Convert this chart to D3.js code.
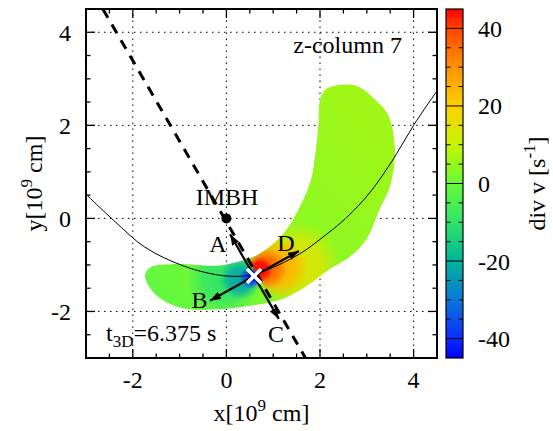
<!DOCTYPE html>
<html><head><meta charset="utf-8">
<script src="https://cdn.jsdelivr.net/npm/d3@7"></script>
<style>body{margin:0;background:#fff}svg{display:block}</style>
</head><body><svg id="c" width="553" height="431" font-family="'Liberation Serif', Tinos, 'Times New Roman', Times, serif"></svg>
<script>
// ---------- data ----------
const xTicks = [-2, 0, 2, 4];
const yTicks = [-2, 0, 2, 4];
const cbTicks = [-40, -20, 0, 20, 40];
const xDomain = [-3, 4.5];
const yDomain = [-3, 4.5];
const cbDomain = [-45, 45];
const paletteValues = [-45, -40, -30, -20, -10, 0, 10, 20, 30, 40, 45];
const paletteColors = ["#0000ff", "#0a2cff", "#0a78d8", "#00b49c", "#30e468", "#66fa3a", "#c8f500", "#ffd000", "#ff9400", "#ff4400", "#ff0000"];
// crescent outline (x, y in 1e9 cm)
const blobOutline = [[3.00,-0.44],[2.64,-0.83],[2.21,-1.09],[1.72,-1.45],[1.21,-1.73],[0.50,-1.88],[-0.14,-1.95],[-0.84,-1.95],[-1.21,-1.84],[-1.57,-1.58],[-1.74,-1.24],[-1.63,-1.05],[-0.93,-0.98],[-0.20,-1.02],[0.29,-0.92],[0.65,-0.79],[1.04,-0.51],[1.29,-0.23],[1.57,0.26],[1.79,0.78],[1.89,1.34],[1.96,1.98],[2.00,2.56],[2.11,2.77],[2.47,2.88],[2.81,2.84],[3.22,2.52],[3.43,2.28],[3.54,1.98],[3.60,1.55],[3.60,1.27],[3.50,0.69],[3.28,0.20]];
// background div v along the crescent
const baseField = [{x:-1.70, y:-1.40, v:-1}, {x:0.60, y:-0.80, v:3}, {x:2.60, y:2.60, v:6}];
// div v concentrations around the tracer (side: relative to the dashed line)
const spots = [
  {x:1.50, y:-1.00, v:14, r:0.95, side:"warm"},
  {x:1.10, y:-1.05, v:25, r:0.65, side:"warm"},
  {x:0.85, y:-1.08, v:36, r:0.45, side:"warm"},
  {x:0.72, y:-1.10, v:45, r:0.28, side:"warm"},
  {x:-0.05, y:-1.30, v:-10, r:0.80, side:"cold"},
  {x:0.30, y:-1.30, v:-22, r:0.45, side:"cold"},
  {x:0.52, y:-1.27, v:-38, r:0.24, side:"cold"},
  {x:0.58, y:-1.24, v:-45, r:0.14, side:"cold"}
];
const orbit = [[-3.0,0.52],[-2.4,-0.05],[-1.74,-0.62],[-0.92,-1.02],[-0.21,-1.21],[0.36,-1.24],[0.86,-1.11],[1.57,-0.76],[2.0,-0.45],[2.57,0.02],[3.07,0.56],[3.57,1.28],[4.0,2.0],[4.5,2.74]];
const dashedLine = [[-2.64, 4.5], [1.69, -3.0]];
const imbh = {x:0, y:0};
const tracer = {x:0.59, y:-1.24};
const arrows = [
  {name:"A", x:0.08, y:-0.34, lx:-0.18, ly:-0.72},
  {name:"B", x:-0.35, y:-1.77, lx:-0.575, ly:-1.93},
  {name:"C", x:1.12, y:-2.16, lx:1.06, ly:-2.66},
  {name:"D", x:1.55, y:-0.70, lx:1.27, ly:-0.70}
];

// ---------- scales ----------
const svg = d3.select("#c");
const x = d3.scaleLinear().domain(xDomain).range([86, 437]);
const y = d3.scaleLinear().domain(yDomain).range([358, 9]);
const cy = d3.scaleLinear().domain(cbDomain).range([358, 9]);
const color = d3.scaleLinear().domain(paletteValues).range(paletteColors).interpolate(d3.interpolateRgb);
const defs = svg.append("defs");
const FS = 24;

// ---------- grid ----------
const grid = svg.append("g").attr("stroke", "#000").attr("stroke-width", 1).attr("stroke-dasharray", "1.5,4.5");
grid.selectAll(".gx").data(xTicks).join("line").attr("x1", d => x(d)).attr("x2", d => x(d)).attr("y1", y.range()[0]).attr("y2", y.range()[1]);
grid.selectAll(".gy").data(yTicks).join("line").attr("y1", d => y(d)).attr("y2", d => y(d)).attr("x1", x.range()[0]).attr("x2", x.range()[1]);

// ---------- field ----------
const blobPath = d3.line().x(d => x(d[0])).y(d => y(d[1])).curve(d3.curveCatmullRomClosed.alpha(0.5));
defs.append("clipPath").attr("id", "blobClip").append("path").attr("d", blobPath(blobOutline));
const g0 = baseField[0], g1 = baseField[baseField.length - 1];
const vx = x(g1.x) - x(g0.x), vy = y(g1.y) - y(g0.y), vl2 = vx * vx + vy * vy;
const lg = defs.append("linearGradient").attr("id", "baseGrad").attr("gradientUnits", "userSpaceOnUse")
  .attr("x1", x(g0.x)).attr("y1", y(g0.y)).attr("x2", x(g1.x)).attr("y2", y(g1.y));
baseField.forEach(p => {
  const t = ((x(p.x) - x(g0.x)) * vx + (y(p.y) - y(g0.y)) * vy) / vl2;
  lg.append("stop").attr("offset", Math.max(0, Math.min(1, t))).attr("stop-color", color(p.v));
});
const P0 = [x(dashedLine[0][0]), y(dashedLine[0][1])], P1 = [x(dashedLine[1][0]), y(dashedLine[1][1])];
const dl = Math.hypot(P1[0] - P0[0], P1[1] - P0[1]);
const dx = (P1[0] - P0[0]) / dl, dy = (P1[1] - P0[1]) / dl;
const nR = [dy, -dx];
function half(sgn) {
  const L = 2000;
  const A = [P0[0] - dx * L, P0[1] - dy * L], B = [P1[0] + dx * L, P1[1] + dy * L];
  return [A, B, [B[0] + sgn * nR[0] * L, B[1] + sgn * nR[1] * L], [A[0] + sgn * nR[0] * L, A[1] + sgn * nR[1] * L]].map(p => p.join(",")).join(" ");
}
defs.append("clipPath").attr("id", "warmClip").append("polygon").attr("points", half(1));
defs.append("clipPath").attr("id", "coldClip").append("polygon").attr("points", half(-1));

const field = svg.append("g").attr("clip-path", "url(#blobClip)");
field.append("path").attr("d", blobPath(blobOutline)).attr("fill", "url(#baseGrad)");
const kx = x(1) - x(0);
spots.forEach((s, i) => {
  const rg = defs.append("radialGradient").attr("id", "sp" + i).attr("gradientUnits", "userSpaceOnUse")
    .attr("cx", x(s.x)).attr("cy", y(s.y)).attr("r", s.r * kx);
  rg.append("stop").attr("offset", 0).attr("stop-color", color(s.v)).attr("stop-opacity", 1);
  rg.append("stop").attr("offset", 0.55).attr("stop-color", color(s.v)).attr("stop-opacity", 0.8);
  rg.append("stop").attr("offset", 1).attr("stop-color", color(s.v)).attr("stop-opacity", 0);
});
["warm", "cold"].forEach(side => {
  const gs = field.append("g").attr("clip-path", `url(#${side}Clip)`);
  spots.forEach((s, i) => {
    if (s.side !== side) return;
    gs.append("circle").attr("cx", x(s.x)).attr("cy", y(s.y)).attr("r", s.r * kx).attr("fill", `url(#sp${i})`);
  });
});

// ---------- orbit & dashed line ----------
defs.append("clipPath").attr("id", "plotClip").append("rect")
  .attr("x", x.range()[0]).attr("y", y.range()[1]).attr("width", x.range()[1] - x.range()[0]).attr("height", y.range()[0] - y.range()[1]);
const overlay = svg.append("g").attr("clip-path", "url(#plotClip)");
overlay.append("path").attr("d", d3.line().x(d => x(d[0])).y(d => y(d[1])).curve(d3.curveCatmullRom.alpha(0.5))(orbit))
  .attr("fill", "none").attr("stroke", "#000").attr("stroke-width", 1);
overlay.append("line").attr("x1", x(dashedLine[0][0])).attr("y1", y(dashedLine[0][1])).attr("x2", x(dashedLine[1][0])).attr("y2", y(dashedLine[1][1]))
  .attr("stroke", "#000").attr("stroke-width", 3).attr("stroke-dasharray", "10,8");

// ---------- arrows ----------
const mk = defs.append("marker").attr("id", "ah").attr("viewBox", "0 -4 11 8").attr("refX", 11).attr("refY", 0)
  .attr("markerWidth", 11).attr("markerHeight", 8).attr("markerUnits", "userSpaceOnUse").attr("orient", "auto");
mk.append("path").attr("d", "M0,-4L11,0L0,4Z").attr("fill", "#000");
arrows.forEach(a => {
  const x0 = x(tracer.x), y0 = y(tracer.y), x1 = x(a.x), y1 = y(a.y);
  overlay.append("line").attr("x1", x0).attr("y1", y0).attr("x2", x1).attr("y2", y1)
    .attr("stroke", "#000").attr("stroke-width", 2.2).attr("marker-end", "url(#ah)");
  svg.append("text").attr("x", x(a.lx)).attr("y", y(a.ly)).attr("text-anchor", "middle").attr("font-size", FS).text(a.name);
});
const cs = 7;
[[-1, -1, 1, 1], [-1, 1, 1, -1]].forEach(k => {
  svg.append("line").attr("x1", x(tracer.x) + k[0] * cs).attr("y1", y(tracer.y) + k[1] * cs)
    .attr("x2", x(tracer.x) + k[2] * cs).attr("y2", y(tracer.y) + k[3] * cs)
    .attr("stroke", "#fff").attr("stroke-width", 3.5);
});
svg.append("circle").attr("cx", x(imbh.x)).attr("cy", y(imbh.y)).attr("r", 5).attr("fill", "#000");
svg.append("text").attr("x", x(0.013)).attr("y", y(0.29)).attr("text-anchor", "middle").attr("font-size", FS).text("IMBH");
svg.append("text").attr("x", x(3.75)).attr("y", y(3.55)).attr("text-anchor", "end").attr("font-size", FS).text("z-column 7");
const tt = svg.append("text").attr("x", x(-2.57)).attr("y", y(-2.63)).attr("font-size", FS);
tt.append("tspan").text("t");
tt.append("tspan").attr("font-size", 17).attr("dy", 6).text("3D");
tt.append("tspan").attr("dy", -6).text("=6.375 s");

// ---------- frame & ticks ----------
const fr = svg.append("g").attr("stroke", "#000");
const [X0, X1] = x.range(), [Y0, Y1] = y.range();
const minorX = d3.range(-3, 4.51, 0.5).filter(v => !xTicks.includes(v) && v > -3 && v < 4.5);
const minorY = d3.range(-3, 4.51, 0.5).filter(v => !yTicks.includes(v) && v > -3 && v < 4.5);
function tickX(vals, len) {
  vals.forEach(v => {
    fr.append("line").attr("x1", x(v)).attr("x2", x(v)).attr("y1", Y0).attr("y2", Y0 - len).attr("stroke-width", 1.3);
    fr.append("line").attr("x1", x(v)).attr("x2", x(v)).attr("y1", Y1).attr("y2", Y1 + len).attr("stroke-width", 1.3);
  });
}
function tickY(vals, len) {
  vals.forEach(v => {
    fr.append("line").attr("y1", y(v)).attr("y2", y(v)).attr("x1", X0).attr("x2", X0 + len).attr("stroke-width", 1.3);
    fr.append("line").attr("y1", y(v)).attr("y2", y(v)).attr("x1", X1).attr("x2", X1 - len).attr("stroke-width", 1.3);
  });
}
tickX(xTicks, 9); tickX(minorX, 4.5); tickY(yTicks, 9); tickY(minorY, 4.5);
fr.append("rect").attr("x", X0).attr("y", Y1).attr("width", X1 - X0).attr("height", Y0 - Y1).attr("fill", "none").attr("stroke-width", 2);

svg.append("g").selectAll("text").data(xTicks).join("text").attr("x", d => x(d)).attr("y", 388)
  .attr("text-anchor", "middle").attr("font-size", FS).text(d => d);
svg.append("g").selectAll("text").data(yTicks).join("text").attr("x", 71).attr("y", d => y(d) + 8.5)
  .attr("text-anchor", "end").attr("font-size", FS).text(d => d);

const xl = svg.append("text").attr("x", (X0 + X1) / 2).attr("y", 421).attr("text-anchor", "middle").attr("font-size", FS);
xl.append("tspan").text("x[10");
xl.append("tspan").attr("font-size", 17).attr("dy", -10).text("9");
xl.append("tspan").attr("dy", 10).text(" cm]");
const yl = svg.append("text").attr("transform", `translate(42,${(Y0 + Y1) / 2}) rotate(-90)`).attr("text-anchor", "middle").attr("font-size", FS);
yl.append("tspan").text("y[10");
yl.append("tspan").attr("font-size", 17).attr("dy", -10).text("9");
yl.append("tspan").attr("dy", 10).text(" cm]");

// ---------- colorbar ----------
const CB0 = 446, CB1 = 463;
const cg = defs.append("linearGradient").attr("id", "cbGrad").attr("gradientUnits", "userSpaceOnUse")
  .attr("x1", 0).attr("x2", 0).attr("y1", cy(cbDomain[0])).attr("y2", cy(cbDomain[1]));
paletteValues.forEach((v, i) => cg.append("stop").attr("offset", (v - cbDomain[0]) / (cbDomain[1] - cbDomain[0])).attr("stop-color", paletteColors[i]));
svg.append("rect").attr("x", CB0).attr("y", cy(cbDomain[1])).attr("width", CB1 - CB0).attr("height", cy(cbDomain[0]) - cy(cbDomain[1])).attr("fill", "url(#cbGrad)");
const cbt = svg.append("g").attr("stroke", "#000").attr("stroke-width", 1);
const cbMinor = d3.range(-40, 41, 5).filter(v => !cbTicks.includes(v));
cbTicks.forEach(v => cbt.append("line").attr("x1", CB0).attr("x2", CB1).attr("y1", cy(v)).attr("y2", cy(v)));
cbMinor.forEach(v => {
  cbt.append("line").attr("x1", CB0).attr("x2", CB0 + 4.5).attr("y1", cy(v)).attr("y2", cy(v));
  cbt.append("line").attr("x1", CB1).attr("x2", CB1 - 4.5).attr("y1", cy(v)).attr("y2", cy(v));
});
svg.append("rect").attr("x", CB0).attr("y", cy(cbDomain[1])).attr("width", CB1 - CB0).attr("height", cy(cbDomain[0]) - cy(cbDomain[1]))
  .attr("fill", "none").attr("stroke", "#000").attr("stroke-width", 1.2);
svg.append("g").selectAll("text").data(cbTicks).join("text").attr("x", 478).attr("y", d => cy(d) + 8.5)
  .attr("font-size", FS).text(d => d);
const cl = svg.append("text").attr("transform", `translate(545,${(Y0 + Y1) / 2}) rotate(-90)`).attr("text-anchor", "middle").attr("font-size", FS);
cl.append("tspan").text("div v [s");
cl.append("tspan").attr("font-size", 17).attr("dy", -10).text("-1");
cl.append("tspan").attr("dy", 10).text("]");
</script></body></html>
